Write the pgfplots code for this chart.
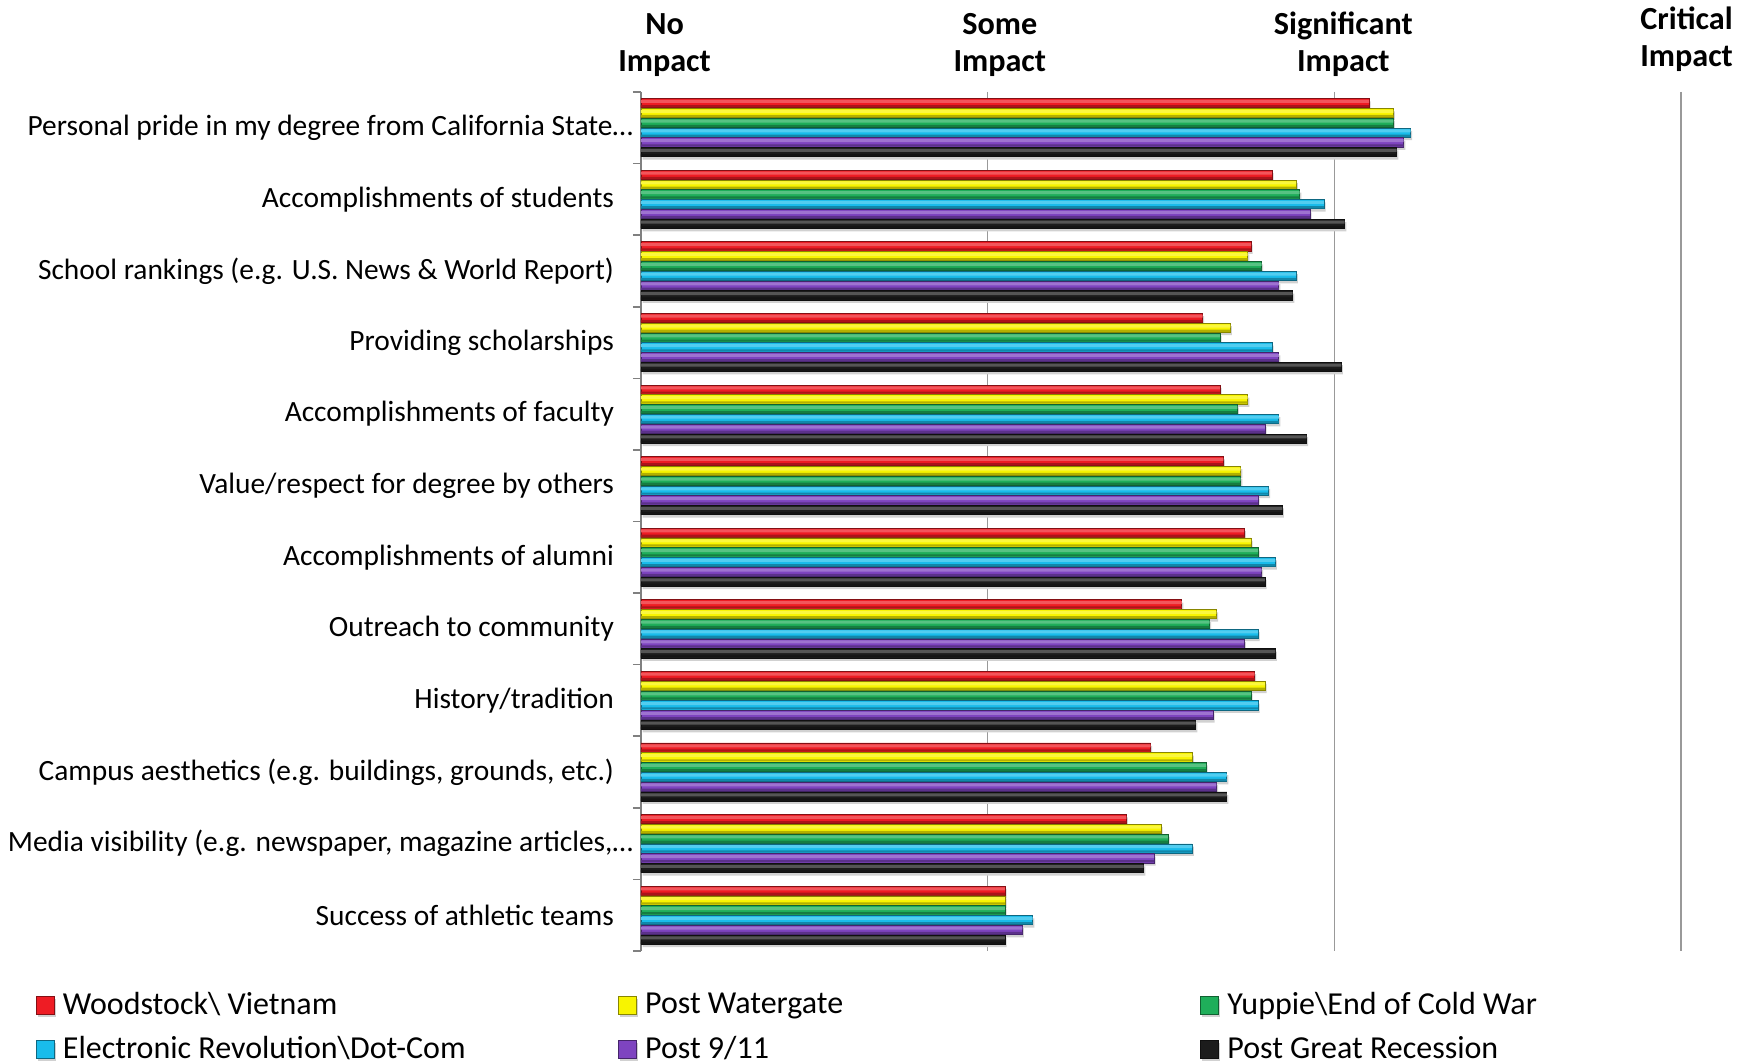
\documentclass[border=0pt]{standalone}
\usepackage{fontspec}
\setmainfont{Carlito}
\usepackage{pgfplots}
\usepackage{pgfplotstable}
\pgfplotsset{compat=1.18}

\definecolor{cRed}{HTML}{EE1C24}
\definecolor{cYel}{HTML}{F8F400}
\definecolor{cGrn}{HTML}{1FAE5A}
\definecolor{cCya}{HTML}{19BCEB}
\definecolor{cPur}{HTML}{7E44C0}
\definecolor{cBlk}{HTML}{1C1C1C}

% idx 0 = top category
\pgfplotstableread{
idx woodstock watergate yuppie dotcom nineeleven recession
0  3.10 3.17 3.17 3.22 3.20 3.18
1  2.82 2.89 2.90 2.97 2.93 3.03
2  2.76 2.75 2.79 2.89 2.84 2.88
3  2.62 2.70 2.67 2.82 2.84 3.02
4  2.67 2.75 2.72 2.84 2.80 2.92
5  2.68 2.73 2.73 2.81 2.78 2.85
6  2.74 2.76 2.78 2.83 2.79 2.80
7  2.56 2.66 2.64 2.78 2.74 2.83
8  2.77 2.80 2.76 2.78 2.65 2.60
9  2.47 2.59 2.63 2.69 2.66 2.69
10 2.40 2.50 2.52 2.59 2.48 2.45
11 2.05 2.05 2.05 2.13 2.10 2.05
}\impact

% #1 column, #2 colour, #3 shift, #4 highlight shift, #5 dark-edge shift, #6 legend text
\newcommand\series[6]{%
  \addplot[fill=#2, draw=#2!55!black, line width=0.4pt, bar shift=#3,
    preaction={fill=black!18, draw=none, transform canvas={xshift=0.8pt, yshift=-1.4pt}}]
    table[x=#1, y=idx] {\impact};
  \addlegendentry{#6}
  \addplot[forget plot, fill=#2!75!white, draw=none, bar width=1.5pt, bar shift=#4]
    table[x=#1, y=idx] {\impact};
  \addplot[forget plot, fill=#2!72!black, draw=none, bar width=1.1pt, bar shift=#5]
    table[x=#1, y=idx] {\impact};
}

\begin{document}
\begin{tikzpicture}
\path[use as bounding box] (-320.5pt,-56.5pt) rectangle (556.5pt,475.5pt);
\begin{axis}[
  at={(0,0)}, anchor=south west,
  width=520pt, height=429.5pt, scale only axis,
  xmin=1, xmax=4, ymin=-0.5, ymax=11.5, y dir=reverse,
  xbar=0.3pt, bar width=4.6pt,
  axis x line*=top, axis y line*=left,
  x axis line style={draw=none},
  y axis line style={draw=gray, line width=0.8pt},
  xtick={1,2,3,4}, xticklabels={},
  x tick style={draw=none},
  xmajorgrids, grid style={gray!80, line width=0.8pt},
  extra x ticks={1.068,2.035,3.026,4},
  extra x tick labels={No\\Impact,Some\\Impact,Significant\\Impact,
    \hspace*{5.6pt}Critical\\\hspace*{5.6pt}Impact\rule[-4.9pt]{0pt}{0pt}},
  extra x tick style={grid=none, tick style={draw=none}},
  xticklabel style={align=center, font=\bfseries\fontsize{16.1}{18.5}\selectfont, yshift=4.3pt},
  ytick={0,...,11},
  yticklabels={Personal pride in my degree from California State…\hspace*{-9.5pt},
    Accomplishments of students,
    School rankings (e.g. U.S. News \& World Report),
    Providing scholarships,
    Accomplishments of faculty,
    Value/respect for degree by others,
    Accomplishments of alumni,
    Outreach to community,
    History/tradition,
    {Campus aesthetics (e.g. buildings, grounds, etc.)},
    {Media visibility (e.g. newspaper, magazine articles,…\hspace*{-9.5pt}},
    Success of athletic teams},
  yticklabel style={font=\fontsize{14.7}{17}\selectfont, xshift=-10pt},
  minor ytick={-0.5,0.5,...,11.5},
  ytick align=outside,
  major tick length=0pt, minor tick length=4pt,
  minor y tick style={draw=gray, line width=0.8pt},
  legend columns=3, legend cell align=left,
  legend image code/.code={\draw[#1, line width=0.4pt] (0pt,-4.5pt) rectangle (9pt,4.5pt);},
  legend style={at={(axis description cs:0,0)}, anchor=north west,
    xshift=-305.8pt, yshift=-17pt, draw=none, fill=none,
    font=\fontsize{16}{18}\selectfont, row sep=6.5pt,
    nodes={inner sep=1.5pt}},
]
\series{woodstock}{cRed}{12.25pt}{13.15pt}{10.75pt}{\makebox[278.7pt][l]{\,Woodstock\textbackslash\ Vietnam}}
\series{watergate}{cYel}{7.35pt}{8.25pt}{5.85pt}{\makebox[278.7pt][l]{\,Post Watergate}}
\series{yuppie}{cGrn}{2.45pt}{3.35pt}{0.95pt}{\,Yuppie\textbackslash End of Cold War}
\series{dotcom}{cCya}{-2.45pt}{-1.55pt}{-3.95pt}{\makebox[278.7pt][l]{\,Electronic Revolution\textbackslash Dot-Com}}
\series{nineeleven}{cPur}{-7.35pt}{-6.45pt}{-8.85pt}{\makebox[278.7pt][l]{\,Post 9/11}}
\series{recession}{cBlk}{-12.25pt}{-11.35pt}{-13.75pt}{\,Post Great Recession}
\end{axis}
\end{tikzpicture}
\end{document}
